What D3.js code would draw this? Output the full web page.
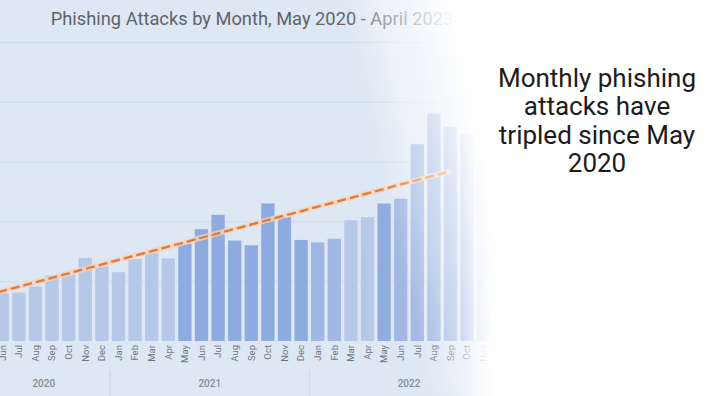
<!DOCTYPE html>
<html>
<head>
  <meta charset="utf-8">
  <title>Phishing attacks by month</title>
  <script src="https://cdnjs.cloudflare.com/ajax/libs/d3/7.8.5/d3.min.js"></script>
  <style>
    body { margin: 0; background: #fff; }
    svg { display: block; font-family: Roboto, "Liberation Sans", sans-serif; }
  </style>
</head>
<body>
<script>
  // every month named in the title, May 2020 - April 2023
  var months = [
    'May 2020', 'Jun 2020', 'Jul 2020', 'Aug 2020', 'Sep 2020', 'Oct 2020', 'Nov 2020', 'Dec 2020',
    'Jan 2021', 'Feb 2021', 'Mar 2021', 'Apr 2021', 'May 2021', 'Jun 2021', 'Jul 2021', 'Aug 2021',
    'Sep 2021', 'Oct 2021', 'Nov 2021', 'Dec 2021',
    'Jan 2022', 'Feb 2022', 'Mar 2022', 'Apr 2022', 'May 2022', 'Jun 2022', 'Jul 2022', 'Aug 2022',
    'Sep 2022', 'Oct 2022', 'Nov 2022', 'Dec 2022',
    'Jan 2023', 'Feb 2023', 'Mar 2023', 'Apr 2023'
  ];

  var barMonths = [
    'Jun 2020', 'Jul 2020', 'Aug 2020', 'Sep 2020', 'Oct 2020', 'Nov 2020', 'Dec 2020',
    'Jan 2021', 'Feb 2021', 'Mar 2021', 'Apr 2021', 'May 2021', 'Jun 2021', 'Jul 2021', 'Aug 2021',
    'Sep 2021', 'Oct 2021', 'Nov 2021', 'Dec 2021',
    'Jan 2022', 'Feb 2022', 'Mar 2022', 'Apr 2022', 'May 2022', 'Jun 2022', 'Jul 2022', 'Aug 2022',
    'Sep 2022', 'Oct 2022', 'Nov 2022'
  ];

  // attacks per month (thousands, estimated)
  var attacks = [
    80, 81, 91, 110, 113, 139, 125,
    115, 137, 147, 138, 163, 187, 211, 168,
    160, 230, 207, 169,
    165, 171, 202, 207, 230, 238, 329, 380,
    358, 346, 313
  ];

  // shade group of each bar (0 light, 1 mid, 2 dark)
  var tier = [
    0, 0, 0, 0, 0, 0, 0,
    0, 0, 0, 0, 2, 2, 2, 2,
    2, 2, 2, 2,
    1, 1, 0, 0, 2, 1, 1, 1,
    1, 1, 1
  ];

  var trendMonths = ['May 2020', 'Sep 2022'];
  var trendValues = [76, 284];

  var gridValues = [100, 200, 300, 400, 500];
  var years = ['2020', '2021', '2022', '2023'];
  var note = ['Monthly phishing', 'attacks have', 'tripled since May', '2020'];

  var w = 720;
  var h = 396;

  var svg = d3.select('body')
              .append('svg')
                .attr('width', w)
                .attr('height', h);

  var x = d3.scaleBand()
            .domain(months)
            .range([-21, 573.4])
            .paddingInner(0.2)
            .paddingOuter(0);

  var y = d3.scaleLinear()
            .domain([0, 500])
            .range([341, 42]);

  var colour = d3.scaleOrdinal()
                 .domain([0, 1, 2])
                 .range(['#b6c8e8', '#a0b7e3', '#8eabdf']);

  var defs = svg.append('defs');

  // white fade towards the right hand side, a bit stronger near the top
  var fade = defs.append('linearGradient')
                 .attr('id', 'fade')
                 .attr('gradientUnits', 'userSpaceOnUse')
                 .attr('x1', 350).attr('y1', 250)
                 .attr('x2', 500).attr('y2', 218);
  [[0, 0], [0.3, 0.03], [0.43, 0.23], [0.53, 0.41], [0.64, 0.53], [0.75, 0.67], [0.86, 0.82], [1, 1]]
    .forEach(function(s) {
      fade.append('stop')
          .attr('offset', s[0])
          .attr('stop-color', '#fff')
          .attr('stop-opacity', s[1]);
    });

  // soft left edge of the note panel
  var edge = defs.append('linearGradient')
                 .attr('id', 'edge')
                 .attr('gradientUnits', 'userSpaceOnUse')
                 .attr('x1', 462).attr('y1', 0)
                 .attr('x2', 494).attr('y2', 0);
  edge.append('stop').attr('offset', 0).attr('stop-color', '#fff').attr('stop-opacity', 0);
  edge.append('stop').attr('offset', 1).attr('stop-color', '#fff').attr('stop-opacity', 1);

  svg.append('rect')
     .attr('width', w)
     .attr('height', h)
     .attr('fill', '#dde8f4');

  // gridlines
  svg.append('g')
     .selectAll('line')
     .data(gridValues)
     .enter()
     .append('line')
       .attr('x1', 0)
       .attr('x2', w)
       .attr('y1', function(d) { return y(d) + 0.5 })
       .attr('y2', function(d) { return y(d) + 0.5 })
       .attr('stroke', '#cfdbe9')
       .attr('stroke-width', 1);

  // bars
  svg.append('g')
     .selectAll('rect')
     .data(attacks)
     .enter()
     .append('rect')
       .attr('x', function(d, i) { return x(barMonths[i]) })
       .attr('y', function(d) { return y(d) })
       .attr('width', x.bandwidth())
       .attr('height', function(d) { return y(0) - y(d) })
       .attr('fill', function(d, i) { return colour(tier[i]) });

  // trend line
  var trend = trendValues.map(function(v, i) {
    return [x(trendMonths[i]) + x.bandwidth() / 2, y(v)];
  });

  svg.append('path')
     .attr('d', d3.line()(trend))
     .attr('fill', 'none')
     .attr('stroke', '#f7d3b8')
     .attr('stroke-opacity', 0.8)
     .attr('stroke-width', 5.5);

  svg.append('path')
     .attr('d', d3.line()(trend))
     .attr('fill', 'none')
     .attr('stroke', '#df7c3f')
     .attr('stroke-width', 2.4)
     .attr('stroke-dasharray', '9,4');

  // month axis
  var axis = svg.append('g')
                .attr('transform', 'translate(0,' + y(0) + ')')
                .call(d3.axisBottom(x)
                        .tickSize(0)
                        .tickFormat(function(m) { return m.split(' ')[0] }));

  axis.select('.domain').remove();
  axis.selectAll('text')
      .attr('transform', 'rotate(-90)')
      .attr('x', -4)
      .attr('y', 0)
      .attr('dy', '0.35em')
      .attr('text-anchor', 'end')
      .attr('fill', '#6f7580')
      .style('font-size', '9.5px')
      .style('font-family', 'Roboto, sans-serif');

  // year groups
  var gap = x.step() - x.bandwidth();
  var groups = years.map(function(yr) {
    var ms = months.filter(function(m) { return m.slice(-4) === yr });
    var left = x(ms[0]) - gap / 2;
    var right = x(ms[ms.length - 1]) + x.bandwidth() + gap / 2;
    return { year: yr, left: left, right: right };
  });

  svg.append('g')
     .selectAll('line')
     .data(groups.slice(1))
     .enter()
     .append('line')
       .attr('x1', function(d) { return d.left })
       .attr('x2', function(d) { return d.left })
       .attr('y1', 370)
       .attr('y2', h)
       .attr('stroke', '#cdd6e2');

  svg.append('g')
     .selectAll('text')
     .data(groups)
     .enter()
     .append('text')
       .attr('x', function(d) { return (d.left + d.right) / 2 })
       .attr('y', 387)
       .attr('text-anchor', 'middle')
       .attr('fill', '#858b95')
       .style('font-size', '10px')
       .style('font-weight', 500)
       .text(function(d) { return d.year });

  svg.append('text')
     .attr('x', 252)
     .attr('y', 25)
     .attr('text-anchor', 'middle')
     .attr('fill', '#5f6368')
     .style('font-size', '18.3px')
     .text('Phishing Attacks by Month, May 2020 - April 2023');

  svg.append('rect')
     .attr('width', w)
     .attr('height', h)
     .attr('fill', 'url(#fade)');

  // white panel holding the note
  svg.append('rect')
     .attr('x', 462)
     .attr('width', w - 462)
     .attr('height', h)
     .attr('fill', 'url(#edge)');

  svg.append('rect')
     .attr('x', 494)
     .attr('width', w - 494)
     .attr('height', h)
     .attr('fill', '#fff');

  svg.append('g')
     .selectAll('text')
     .data(note)
     .enter()
     .append('text')
       .attr('x', 597)
       .attr('y', function(d, i) { return 87 + i * 28.4 })
       .attr('text-anchor', 'middle')
       .attr('fill', '#1b1b1b')
       .style('font-size', '26px')
       .text(function(d) { return d });
</script>
</body>
</html>
